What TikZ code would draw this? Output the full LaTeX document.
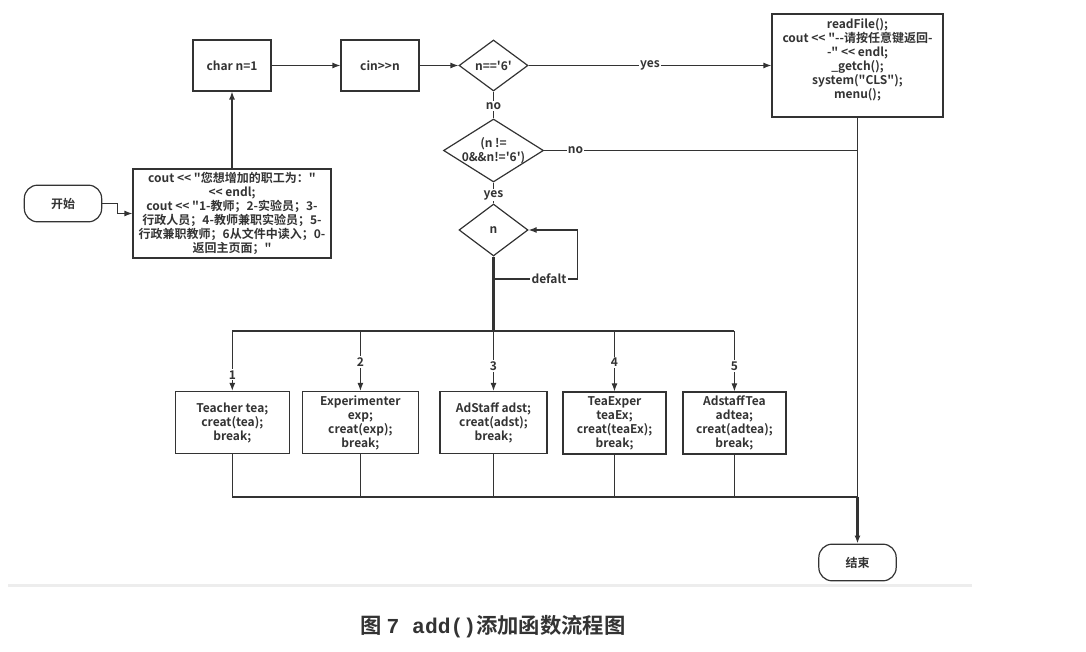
\documentclass[tikz,border=0pt]{standalone}
\usepackage{fontspec}
\setmainfont{Noto Sans CJK SC}[Ligatures=TeXOff,BoldFont={Noto Sans CJK SC Bold}]
\newfontfamily\capmono{Liberation Mono}
\usetikzlibrary{arrows.meta,shapes.geometric}
\definecolor{inkgray}{HTML}{333333}

\begin{document}
\begin{tikzpicture}[x=0.75pt,y=-0.75pt,>={Latex[length=6pt,width=4.5pt]},
  font=\fontsize{9}{10.5}\selectfont\bfseries,
  every node/.style={text=inkgray},
  line/.style={draw=inkgray,line width=0.9pt},
  trunk/.style={draw=inkgray,line width=1.8pt},
  process/.style={draw=inkgray,line width=0.9pt,rectangle,align=center,inner sep=2pt},
  decision/.style={draw=inkgray,line width=0.9pt,diamond,inner sep=0pt,align=center},
  terminal/.style={draw=inkgray,line width=0.9pt,rectangle,rounded corners=10pt,
    minimum width=58pt,minimum height=27.5pt},
  tag/.style={fill=white,inner sep=1pt}]
\useasboundingbox (0,0) rectangle (1086,652);
% ---------- start and prompt ----------
\node[terminal] (start) at (63,203.5) {开始};
\node[process,minimum width=148.5pt,minimum height=66.75pt] (cout) at (232,213.5)
  {cout << "您想增加的职工为："\\ << endl;\\ cout << "1-教师；2-实验员；3-\\
   行政人员；4-教师兼职实验员；5-\\ 行政兼职教师；6从文件中读入；0-\\ 返回主页面；"};
% ---------- top row ----------
\node[process,minimum width=58.5pt,minimum height=38.25pt] (charn) at (232,65.5) {char n=1};
\node[process,minimum width=58.5pt,minimum height=38.25pt] (cin) at (380,65.5) {cin>>n};
\node[decision,minimum width=51.75pt,minimum height=38.25pt] (isix) at (493.5,65.5) {n=='6'};
\node[process,minimum width=128.25pt,minimum height=77.25pt] (readf) at (857.5,65.5)
  {readFile();\\ cout << "--请按任意键返回-\\ -" << endl;\\ \_getch();\\ system("CLS");\\ menu();\\ \mbox{}};
% ---------- checks ----------
\node[decision,minimum width=75pt,minimum height=47.25pt,
  label={[align=center]center:{(n !=\\0\&\&n!='6')}}] (valid) at (493.5,150.5) {};
\node[decision,minimum width=51.75pt,minimum height=39pt] (sw) at (493.5,230) {n};
% ---------- cases ----------
\node[process,minimum width=85.5pt,minimum height=46.5pt] (c1) at (232.3,422.5)
  {Teacher tea;\\ creat(tea);\\ break;};
\node[process,minimum width=87pt,minimum height=46.5pt] (c2) at (360.4,422.5)
  {Experimenter\\ exp;\\ creat(exp);\\ break;};
\node[process,minimum width=80.25pt,minimum height=46.5pt] (c3) at (493.5,422.5)
  {AdStaff adst;\\ creat(adst);\\ break;};
\node[process,minimum width=77.25pt,minimum height=46.5pt] (c4) at (614.5,423)
  {TeaExper\\ teaEx;\\ creat(teaEx);\\ break;};
\node[process,minimum width=77.25pt,minimum height=46.5pt] (c5) at (734.4,423)
  {AdstaffTea\\ adtea;\\ creat(adtea);\\ break;};
\node[terminal] (stop) at (857.5,562.5) {结束};
\coordinate (loop) at (493.5,279);
\coordinate (bus) at (493.5,331);
\coordinate (merge) at (857.5,497);
% ---------- connectors ----------
\draw[line,->] (start.east) -- ++(15,0) |- (cout.west);
\draw[line,->] (cout.north) -- (charn.south);
\draw[line,->] (charn) -- (cin);
\draw[line,->] (cin) -- (isix);
\draw[line,->] (isix) -- node[tag,pos=0.5]{yes} (readf);
\draw[line] (isix) -- node[tag,pos=0.55]{no} (valid);
\draw[line] (valid.east) -- node[tag,pos=0.1]{no} (readf.south |- valid.east);
\draw[line] (valid) -- node[tag,pos=0.6]{yes} (sw);
\draw[trunk] (sw.south) -- (bus);
\draw[line,->] (loop) -- ++(84,0) node[tag,pos=0.66]{defalt} |- (sw.east);
\draw[line] (c1.north |- bus) -- (c5.north |- bus);
\foreach \c/\p in {1/0.73,2/0.52,3/0.58,4/0.52,5/0.58}
  \draw[line,->] (c\c.north |- bus) -- node[tag,pos=\p]{\c} (c\c.north);
\foreach \c in {1,...,5}
  \draw[line] (c\c.south) -- (c\c.south |- merge);
\draw[line] (c1.south |- merge) -- (c3.south |- merge);
\draw[trunk] (c3.south |- merge) -- (merge);
\draw[line] (readf.south) -- (merge);
\draw[trunk,->] (merge) -- (stop.north);
% ---------- caption ----------
\draw[line width=2.25pt,draw=black!7] (8,585) -- (972,585);
\node (cap) at (493,627) {\fontsize{16}{16}\selectfont 图 {\capmono 7 add()}添加函数流程图};
\end{tikzpicture}
\end{document}
